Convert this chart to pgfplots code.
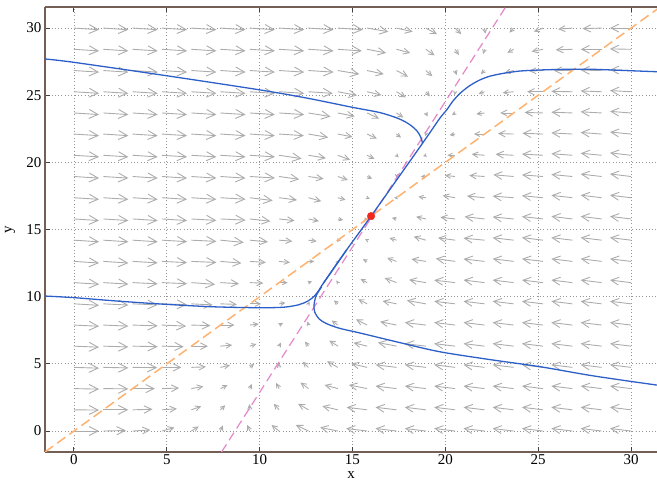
\documentclass[border=0pt]{standalone}
\usepackage{fontspec}
\setmainfont{Liberation Serif}
\usepackage{pgfplots}
\usepackage{pgfplotstable}
\pgfplotsset{compat=1.18}
\usetikzlibrary{arrows.meta}

\definecolor{arrowgray}{RGB}{172,172,172}
\definecolor{gridgray}{RGB}{150,150,150}
\definecolor{axisc}{RGB}{115,95,85}
\definecolor{trajblue}{RGB}{45,95,200}
\definecolor{nullpink}{RGB}{228,135,200}
\definecolor{nullorange}{RGB}{255,178,112}
\definecolor{eqred}{RGB}{240,40,30}

% direction field: x y u v (grid 0..30, 20 x 20)
\pgfplotstableread{
x y u v
0 0 1.35 0
1.58 0 1.22 0.04
3.16 0 0.95 0.08
4.74 0 0.67 0.26
6.32 0 0.40 0.34
7.89 0 0.13 0.42
9.47 0 -0.14 0.45
11.05 0 -0.41 0.45
12.63 0 -0.68 0.45
14.21 0 -0.95 0.27
15.79 0 -1.13 0.19
17.37 0 -1.13 0.19
18.95 0 -1.13 0.19
20.53 0 -1.13 0.19
22.11 0 -1.13 0.19
23.68 0 -1.13 0.19
25.26 0 -1.13 0.19
26.84 0 -1.13 0.19
28.42 0 -1.13 0.19
30 0 -1.13 0.19
0 1.58 1.35 -0.02
1.58 1.58 1.34 0
3.16 1.58 1.07 0.04
4.74 1.58 0.80 0.08
6.32 1.58 0.53 0.26
7.89 1.58 0.26 0.34
9.47 1.58 -0.02 0.42
11.05 1.58 -0.29 0.45
12.63 1.58 -0.56 0.45
14.21 1.58 -0.83 0.27
15.79 1.58 -1.10 0.19
17.37 1.58 -1.13 0.19
18.95 1.58 -1.13 0.19
20.53 1.58 -1.13 0.19
22.11 1.58 -1.13 0.19
23.68 1.58 -1.13 0.19
25.26 1.58 -1.13 0.19
26.84 1.58 -1.13 0.19
28.42 1.58 -1.13 0.19
30 1.58 -1.13 0.19
0 3.16 1.35 -0.04
1.58 3.16 1.35 -0.02
3.16 3.16 1.20 0
4.74 3.16 0.92 0.04
6.32 3.16 0.65 0.16
7.89 3.16 0.38 0.26
9.47 3.16 0.11 0.34
11.05 3.16 -0.16 0.42
12.63 3.16 -0.43 0.45
14.21 3.16 -0.71 0.27
15.79 3.16 -0.98 0.27
17.37 3.16 -1.13 0.19
18.95 3.16 -1.13 0.19
20.53 3.16 -1.13 0.19
22.11 3.16 -1.13 0.19
23.68 3.16 -1.13 0.19
25.26 3.16 -1.13 0.19
26.84 3.16 -1.13 0.19
28.42 3.16 -1.13 0.19
30 3.16 -1.13 0.19
0 4.74 1.35 -0.06
1.58 4.74 1.35 -0.04
3.16 4.74 1.32 -0.02
4.74 4.74 1.05 0
6.32 4.74 0.78 0.04
7.89 4.74 0.51 0.16
9.47 4.74 0.23 0.26
11.05 4.74 -0.04 0.34
12.63 4.74 -0.31 0.42
14.21 4.74 -0.58 0.45
15.79 4.74 -0.85 0.27
17.37 4.74 -1.12 0.19
18.95 4.74 -1.13 0.19
20.53 4.74 -1.13 0.19
22.11 4.74 -1.13 0.19
23.68 4.74 -1.13 0.19
25.26 4.74 -1.13 0.19
26.84 4.74 -1.13 0.19
28.42 4.74 -1.13 0.19
30 4.74 -1.13 0.19
0 6.32 1.35 -0.08
1.58 6.32 1.35 -0.06
3.16 6.32 1.35 -0.04
4.74 6.32 1.17 -0.04
6.32 6.32 0.90 0
7.89 6.32 0.63 0.08
9.47 6.32 0.36 0.16
11.05 6.32 0.09 0.26
12.63 6.32 -0.19 0.34
14.21 6.32 -0.46 0.42
15.79 6.32 -0.73 0.25
17.37 6.32 -1.00 0.27
18.95 6.32 -1.13 0.19
20.53 6.32 -1.13 0.19
22.11 6.32 -1.13 0.19
23.68 6.32 -1.13 0.19
25.26 6.32 -1.13 0.19
26.84 6.32 -1.13 0.19
28.42 6.32 -1.13 0.19
30 6.32 -1.13 0.19
0 7.89 1.35 -0.09
1.58 7.89 1.35 -0.08
3.16 7.89 1.35 -0.06
4.74 7.89 1.30 -0.08
6.32 7.89 1.03 -0.04
7.89 7.89 0.75 0
9.47 7.89 0.48 0.08
11.05 7.89 0.21 0.16
12.63 7.89 -0.06 0.26
14.21 7.89 -0.33 0.34
15.79 7.89 -0.60 0.42
17.37 7.89 -0.88 0.25
18.95 7.89 -1.13 0.19
20.53 7.89 -1.13 0.19
22.11 7.89 -1.13 0.19
23.68 7.89 -1.13 0.19
25.26 7.89 -1.13 0.19
26.84 7.89 -1.13 0.19
28.42 7.89 -1.13 0.19
30 7.89 -1.13 0.19
0 9.47 1.35 -0.11
1.58 9.47 1.35 -0.09
3.16 9.47 1.35 -0.08
4.74 9.47 1.35 -0.06
6.32 9.47 1.15 -0.08
7.89 9.47 0.88 -0.04
9.47 9.47 0.61 0
11.05 9.47 0.34 0.08
12.63 9.47 0.06 0.16
14.21 9.47 -0.21 0.26
15.79 9.47 -0.48 0.34
17.37 9.47 -0.75 0.21
18.95 9.47 -1.02 0.25
20.53 9.47 -1.13 0.19
22.11 9.47 -1.13 0.19
23.68 9.47 -1.13 0.19
25.26 9.47 -1.13 0.19
26.84 9.47 -1.13 0.19
28.42 9.47 -1.13 0.19
30 9.47 -1.13 0.19
0 11.05 1.35 -0.12
1.58 11.05 1.35 -0.11
3.16 11.05 1.35 -0.09
4.74 11.05 1.35 -0.08
6.32 11.05 1.28 -0.13
7.89 11.05 1.00 -0.08
9.47 11.05 0.73 -0.04
11.05 11.05 0.46 0
12.63 11.05 0.19 0.08
14.21 11.05 -0.08 0.16
15.79 11.05 -0.35 0.26
17.37 11.05 -0.63 0.34
18.95 11.05 -0.90 0.21
20.53 11.05 -1.13 0.18
22.11 11.05 -1.13 0.19
23.68 11.05 -1.13 0.19
25.26 11.05 -1.13 0.19
26.84 11.05 -1.13 0.19
28.42 11.05 -1.13 0.19
30 11.05 -1.13 0.19
0 12.63 1.35 -0.12
1.58 12.63 1.35 -0.12
3.16 12.63 1.35 -0.11
4.74 12.63 1.35 -0.09
6.32 12.63 1.35 -0.08
7.89 12.63 1.13 -0.13
9.47 12.63 0.86 -0.08
11.05 12.63 0.58 -0.08
12.63 12.63 0.31 0
14.21 12.63 0.04 0.08
15.79 12.63 -0.23 0.16
17.37 12.63 -0.50 0.26
18.95 12.63 -0.77 0.17
20.53 12.63 -1.04 0.21
22.11 12.63 -1.13 0.18
23.68 12.63 -1.13 0.19
25.26 12.63 -1.13 0.19
26.84 12.63 -1.13 0.19
28.42 12.63 -1.13 0.19
30 12.63 -1.13 0.19
0 14.21 1.35 -0.12
1.58 14.21 1.35 -0.12
3.16 14.21 1.35 -0.12
4.74 14.21 1.35 -0.11
6.32 14.21 1.35 -0.09
7.89 14.21 1.25 -0.17
9.47 14.21 0.98 -0.13
11.05 14.21 0.71 -0.08
12.63 14.21 0.44 -0.08
14.21 14.21 0.17 0
15.79 14.21 -0.11 0.08
17.37 14.21 -0.38 0.16
18.95 14.21 -0.65 0.26
20.53 14.21 -0.92 0.17
22.11 14.21 -1.13 0.15
23.68 14.21 -1.13 0.18
25.26 14.21 -1.13 0.19
26.84 14.21 -1.13 0.19
28.42 14.21 -1.13 0.19
30 14.21 -1.13 0.19
0 15.79 1.35 -0.12
1.58 15.79 1.35 -0.12
3.16 15.79 1.35 -0.12
4.74 15.79 1.35 -0.12
6.32 15.79 1.35 -0.11
7.89 15.79 1.35 -0.09
9.47 15.79 1.11 -0.17
11.05 15.79 0.83 -0.13
12.63 15.79 0.56 -0.16
14.21 15.79 0.29 -0.08
15.79 15.79 0.02 0
17.37 15.79 -0.25 0.08
18.95 15.79 -0.52 0.16
20.53 15.79 -0.80 0.13
22.11 15.79 -1.07 0.17
23.68 15.79 -1.13 0.15
25.26 15.79 -1.13 0.18
26.84 15.79 -1.13 0.19
28.42 15.79 -1.13 0.19
30 15.79 -1.13 0.19
0 17.37 1.35 -0.12
1.58 17.37 1.35 -0.12
3.16 17.37 1.35 -0.12
4.74 17.37 1.35 -0.12
6.32 17.37 1.35 -0.12
7.89 17.37 1.35 -0.11
9.47 17.37 1.23 -0.21
11.05 17.37 0.96 -0.17
12.63 17.37 0.69 -0.26
14.21 17.37 0.42 -0.16
15.79 17.37 0.14 -0.08
17.37 17.37 -0.13 0
18.95 17.37 -0.40 0.08
20.53 17.37 -0.67 0.16
22.11 17.37 -0.94 0.13
23.68 17.37 -1.13 0.12
25.26 17.37 -1.13 0.15
26.84 17.37 -1.13 0.18
28.42 17.37 -1.13 0.19
30 17.37 -1.13 0.19
0 18.95 1.35 -0.12
1.58 18.95 1.35 -0.12
3.16 18.95 1.35 -0.12
4.74 18.95 1.35 -0.12
6.32 18.95 1.35 -0.12
7.89 18.95 1.35 -0.12
9.47 18.95 1.35 -0.11
11.05 18.95 1.08 -0.21
12.63 18.95 0.81 -0.17
14.21 18.95 0.54 -0.26
15.79 18.95 0.27 -0.16
17.37 18.95 0.00 -0.08
18.95 18.95 -0.27 0
20.53 18.95 -0.55 0.08
22.11 18.95 -0.82 0.08
23.68 18.95 -1.09 0.13
25.26 18.95 -1.13 0.12
26.84 18.95 -1.13 0.15
28.42 18.95 -1.13 0.18
30 18.95 -1.13 0.19
0 20.53 1.35 -0.12
1.58 20.53 1.35 -0.12
3.16 20.53 1.35 -0.12
4.74 20.53 1.35 -0.12
6.32 20.53 1.35 -0.12
7.89 20.53 1.35 -0.12
9.47 20.53 1.35 -0.12
11.05 20.53 1.21 -0.25
12.63 20.53 0.94 -0.21
14.21 20.53 0.66 -0.34
15.79 20.53 0.39 -0.26
17.37 20.53 0.12 -0.16
18.95 20.53 -0.15 -0.08
20.53 20.53 -0.42 0
22.11 20.53 -0.69 0.08
23.68 20.53 -0.97 0.08
25.26 20.53 -1.13 0.09
26.84 20.53 -1.13 0.12
28.42 20.53 -1.13 0.15
30 20.53 -1.13 0.18
0 22.11 1.35 -0.12
1.58 22.11 1.35 -0.12
3.16 22.11 1.35 -0.12
4.74 22.11 1.35 -0.12
6.32 22.11 1.35 -0.12
7.89 22.11 1.35 -0.12
9.47 22.11 1.35 -0.12
11.05 22.11 1.33 -0.12
12.63 22.11 1.06 -0.25
14.21 22.11 0.79 -0.21
15.79 22.11 0.52 -0.34
17.37 22.11 0.25 -0.26
18.95 22.11 -0.03 -0.16
20.53 22.11 -0.30 -0.08
22.11 22.11 -0.57 0
23.68 22.11 -0.84 0.04
25.26 22.11 -1.11 0.06
26.84 22.11 -1.13 0.09
28.42 22.11 -1.13 0.12
30 22.11 -1.13 0.15
0 23.68 1.35 -0.12
1.58 23.68 1.35 -0.12
3.16 23.68 1.35 -0.12
4.74 23.68 1.35 -0.12
6.32 23.68 1.35 -0.12
7.89 23.68 1.35 -0.12
9.47 23.68 1.35 -0.12
11.05 23.68 1.35 -0.12
12.63 23.68 1.19 -0.27
14.21 23.68 0.91 -0.25
15.79 23.68 0.64 -0.42
17.37 23.68 0.37 -0.34
18.95 23.68 0.10 -0.26
20.53 23.68 -0.17 -0.16
22.11 23.68 -0.44 -0.08
23.68 23.68 -0.72 0
25.26 23.68 -0.99 0.04
26.84 23.68 -1.13 0.06
28.42 23.68 -1.13 0.09
30 23.68 -1.13 0.12
0 25.26 1.35 -0.12
1.58 25.26 1.35 -0.12
3.16 25.26 1.35 -0.12
4.74 25.26 1.35 -0.12
6.32 25.26 1.35 -0.12
7.89 25.26 1.35 -0.12
9.47 25.26 1.35 -0.12
11.05 25.26 1.35 -0.12
12.63 25.26 1.31 -0.12
14.21 25.26 1.04 -0.27
15.79 25.26 0.77 -0.25
17.37 25.26 0.50 -0.42
18.95 25.26 0.22 -0.34
20.53 25.26 -0.05 -0.26
22.11 25.26 -0.32 -0.16
23.68 25.26 -0.59 -0.08
25.26 25.26 -0.86 0
26.84 25.26 -1.13 0.03
28.42 25.26 -1.13 0.06
30 25.26 -1.13 0.09
0 26.84 1.35 -0.12
1.58 26.84 1.35 -0.12
3.16 26.84 1.35 -0.12
4.74 26.84 1.35 -0.12
6.32 26.84 1.35 -0.12
7.89 26.84 1.35 -0.12
9.47 26.84 1.35 -0.12
11.05 26.84 1.35 -0.12
12.63 26.84 1.35 -0.12
14.21 26.84 1.16 -0.27
15.79 26.84 0.89 -0.27
17.37 26.84 0.62 -0.45
18.95 26.84 0.35 -0.42
20.53 26.84 0.08 -0.34
22.11 26.84 -0.20 -0.26
23.68 26.84 -0.47 -0.16
25.26 26.84 -0.74 -0.04
26.84 26.84 -1.01 0
28.42 26.84 -1.13 0.03
30 26.84 -1.13 0.06
0 28.42 1.35 -0.12
1.58 28.42 1.35 -0.12
3.16 28.42 1.35 -0.12
4.74 28.42 1.35 -0.12
6.32 28.42 1.35 -0.12
7.89 28.42 1.35 -0.12
9.47 28.42 1.35 -0.12
11.05 28.42 1.35 -0.12
12.63 28.42 1.35 -0.12
14.21 28.42 1.29 -0.12
15.79 28.42 1.02 -0.27
17.37 28.42 0.74 -0.27
18.95 28.42 0.47 -0.45
20.53 28.42 0.20 -0.42
22.11 28.42 -0.07 -0.34
23.68 28.42 -0.34 -0.26
25.26 28.42 -0.61 -0.16
26.84 28.42 -0.89 -0.04
28.42 28.42 -1.13 0
30 28.42 -1.13 0.03
0 30 1.35 -0.12
1.58 30 1.35 -0.12
3.16 30 1.35 -0.12
4.74 30 1.35 -0.12
6.32 30 1.35 -0.12
7.89 30 1.35 -0.12
9.47 30 1.35 -0.12
11.05 30 1.35 -0.12
12.63 30 1.35 -0.12
14.21 30 1.35 -0.12
15.79 30 1.14 -0.27
17.37 30 0.87 -0.27
18.95 30 0.60 -0.45
20.53 30 0.33 -0.45
22.11 30 0.05 -0.42
23.68 30 -0.22 -0.34
25.26 30 -0.49 -0.26
26.84 30 -0.76 -0.08
28.42 30 -1.03 -0.04
30 30 -1.13 0
}\field

\begin{document}
\begin{tikzpicture}
\begin{axis}[
    width=612pt, height=445pt, scale only axis,
    xmin=-1.56, xmax=31.4, ymin=-1.56, ymax=31.57,
    axis x line*=box, axis y line*=left,
    axis line style={axisc, line width=1.3pt},
    xtick={0,5,...,30}, ytick={0,5,...,30},
    tick align=inside, major tick length=5pt,
    every tick/.style={black!75, line width=1pt},
    grid=major,
    major grid style={gridgray, line width=0.9pt, dash pattern=on 0.9pt off 2.4pt},
    tick label style={font=\fontsize{15}{18}\selectfont},
    xticklabel style={inner sep=1.2pt, yshift=-1.5pt},
    /pgf/number format/assume math mode=true,
    label style={font=\fontsize{15}{18}\selectfont},
    xlabel={x}, ylabel={y},
    xlabel style={at={(axis description cs:0.5,0)}, anchor=north, inner sep=0pt, yshift=-19pt},
    ylabel style={at={(axis description cs:-0.0572,0.5)}, anchor=center},
]
\coordinate (sw) at (rel axis cs:0,0);
\coordinate (ne) at (rel axis cs:1,1);

\addplot[arrowgray, line width=0.9pt,
    point meta={sqrt((\thisrow{u})^2+(\thisrow{v})^2)},
    quiver={u=\thisrow{u}, v=\thisrow{v},
      every arrow/.append style={
        /utils/exec={\pgfmathsetlengthmacro\alen{\pgfplotspointmetatransformed/1000*7pt+2pt}},
        -{Straight Barb[length=\alen, width=\alen]}}}]
  table[x=x, y=y] {\field};

% nullclines
\addplot[nullorange, line width=1.5pt, dash pattern=on 10pt off 5pt]
  coordinates {(-1.56,-1.56) (31.57,31.57)};
\addplot[nullpink, line width=1.2pt, dash pattern=on 9pt off 5pt]
  coordinates {(7.95,-1.56) (23.25,31.57)};

% trajectories
\addplot[trajblue, line width=1.3pt, smooth, tension=0.5] coordinates {
 (-1.56,27.7) (0,27.45) (5,26.45) (10,25.4) (12.5,24.8) (15,24.1)
 (16.5,23.7) (17.5,23.25) (18.1,22.8) (18.5,22.3) (18.7,21.8) (18.77,21.42)};
\addplot[trajblue, line width=1.3pt, smooth, tension=0.4] coordinates {
 (31.4,26.75) (29.5,26.85) (27.97,26.93) (26.5,26.93) (25.1,26.88) (24,26.8)
 (23.12,26.63) (22.4,26.42) (21.86,26.14) (21.3,25.7) (20.79,25.14)
 (20.4,24.55) (20.07,23.9) (19.7,23.28) (18.77,21.42) (16,16) (14.68,13.48)
 (13.43,11.0)};
\addplot[trajblue, line width=1.3pt, smooth, tension=0.5] coordinates {
 (-1.56,10.05) (0,9.93) (2.5,9.66) (5,9.43) (7.5,9.25) (10,9.18)
 (11.3,9.22) (12.1,9.4) (12.6,9.68) (12.95,10.05) (13.2,10.5)
 (13.43,11.0) (14.68,13.48)};
\addplot[trajblue, line width=1.3pt, smooth, tension=0.5] coordinates {
 (13.34,10.74) (13.05,10.1) (12.93,9.4) (12.97,8.85) (13.2,8.35)
 (13.6,8.0) (14.3,7.65) (15.4,7.3) (17.5,6.6) (19.71,5.9)
 (22.5,5.3) (25.1,4.79) (28,4.1) (31.4,3.42)};

% equilibrium
\addplot[only marks, mark=*, mark size=3.8pt, eqred, mark options={draw=eqred}]
  coordinates {(16,16)};
\end{axis}
\pgfresetboundingbox
\path[use as bounding box] ([xshift=-45pt, yshift=-29pt]sw) rectangle ([yshift=7pt]ne);
\end{tikzpicture}
\end{document}
